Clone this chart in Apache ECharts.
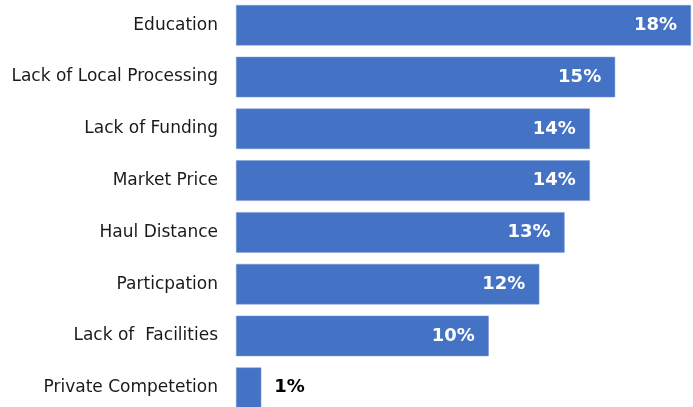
<!DOCTYPE html>
<html>
<head>
<meta charset="utf-8">
<script src="https://cdn.jsdelivr.net/npm/echarts@6/dist/echarts.min.js"></script>
<style>
  html, body { margin: 0; padding: 0; background: #fff; }
  #chart { width: 693px; height: 407px; }
</style>
</head>
<body>
<div id="chart"></div>
<script>
// top to bottom as in the picture
var categories = ['Education', 'Lack of Local Processing', 'Lack of Funding', 'Market Price',
                  'Haul Distance', 'Particpation', 'Lack of  Facilities', 'Private Competetion'];
var values = [18, 15, 14, 14, 13, 12, 10, 1];

var myChart = echarts.init(document.getElementById('chart'));

var data = values.map(function (v) {
    var item = { value: v };
    if (v < 3) {
        // short bar, label sits outside in black
        item.label = { position: 'right', distance: 13, color: '#000' };
    }
    return item;
});

var option = {
    animation: false,
    textStyle: { fontFamily: 'DejaVu Sans' },
    grid: { left: 236, right: 2, top: -0.6, bottom: -6.6, containLabel: false, outerBoundsMode: 'none' },
    xAxis: {
        type: 'value',
        min: 0,
        max: 18,
        show: false
    },
    yAxis: {
        type: 'category',
        data: categories,
        inverse: true,
        axisLine: { show: false },
        axisTick: { show: false },
        splitLine: { show: false },
        axisLabel: {
            margin: 18,
            fontSize: 17,
            color: '#1a1a1a',
            fontFamily: 'DejaVu Sans'
        }
    },
    series: [
        {
            type: 'bar',
            data: data,
            barWidth: 40.5,
            itemStyle: { color: '#4472C4', borderColor: '#7a9ad6', borderWidth: 0.5 },
            label: {
                show: true,
                position: 'insideRight',
                distance: 14,
                color: '#fff',
                fontWeight: 'bold',
                fontSize: 18,
                fontFamily: 'DejaVu Sans',
                formatter: '{c}%'
            }
        }
    ]
};

myChart.setOption(option);
window.onresize = myChart.resize;
</script>
</body>
</html>
